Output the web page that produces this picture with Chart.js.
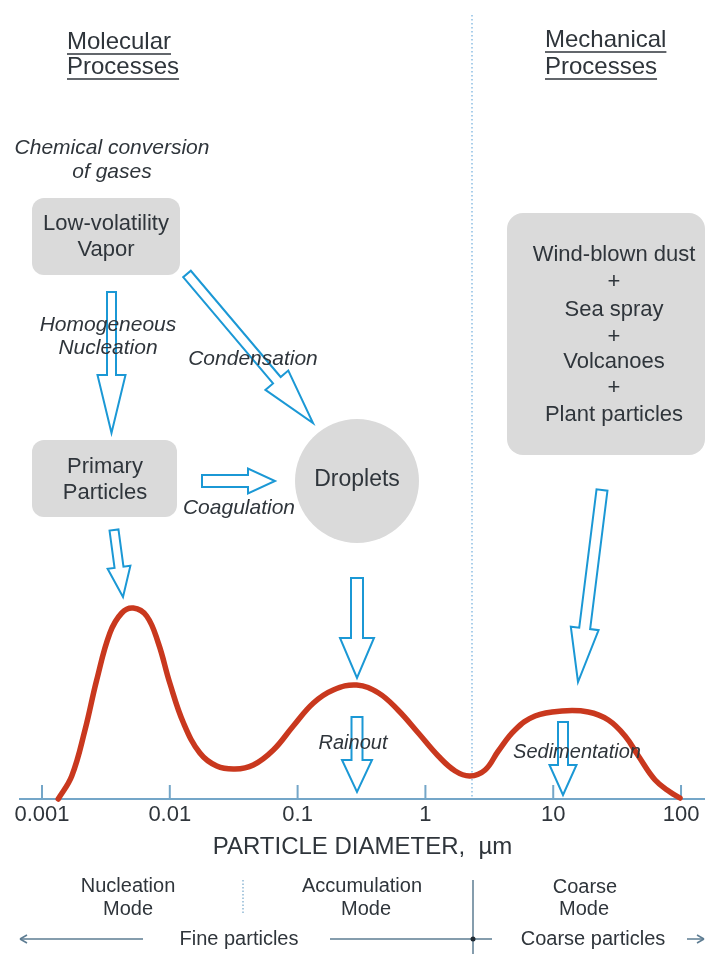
<!DOCTYPE html>
<html>
<head>
<meta charset="utf-8">
<script src="https://cdn.jsdelivr.net/npm/chart.js@4.4.1/dist/chart.umd.min.js"></script>
<style>
  html, body { margin: 0; padding: 0; background: #ffffff; }
  #wrap { width: 705px; height: 954px; position: relative; }
</style>
</head>
<body>
<div id="wrap"><canvas id="myChart"></canvas></div>
<script>
// particle diameter (µm) and relative number concentration
let diameters = [0.00134, 0.00171, 0.00217, 0.00268, 0.0034, 0.00421, 0.00518, 0.00659, 0.00813, 0.0100,
                 0.0128, 0.0172, 0.0233, 0.0324, 0.045, 0.0646, 0.0925, 0.133, 0.19, 0.29,
                 0.43, 0.61, 0.88, 1.26, 1.71, 2.23, 2.93, 3.72, 5.02, 7.21,
                 11.7, 18.8, 27.0, 36.5, 46.4, 62.7, 82.0, 98.2];
let concentration = [0, 23, 69, 119, 166, 186, 191, 183, 156, 116,
                     76, 46, 33, 30, 34, 49, 73, 96, 109, 114,
                     106, 89, 66, 43, 28, 23, 29, 48, 69, 83,
                     88, 87, 79, 63, 43, 19, 7, 1];
let tickValues = [0.001, 0.01, 0.1, 1, 10, 100];
let tickLabels = ['0.001', '0.01', '0.1', '1', '10', '100'];

let fontFamily = "'Liberation Sans', Arial, sans-serif";
let textColor = '#2f353b';
let arrowBlue = '#1b98d5';
let axisColor = '#74a6c8';
let boxGray = '#dadada';

function txt(ctx, str, x, y, size, italic, align) {
    ctx.font = (italic ? 'italic ' : '') + size + 'px ' + fontFamily;
    ctx.fillStyle = textColor;
    ctx.textAlign = align || 'center';
    ctx.textBaseline = 'middle';
    ctx.fillText(str, x, y);
}

function underlined(ctx, str, x, y, size, lineY) {
    txt(ctx, str, x, y, size, false, 'left');
    let w = ctx.measureText(str).width;
    ctx.strokeStyle = textColor;
    ctx.lineWidth = 1.5;
    ctx.beginPath();
    ctx.moveTo(x, lineY);
    ctx.lineTo(x + w, lineY);
    ctx.stroke();
}

function roundBox(ctx, x1, y1, x2, y2, r) {
    ctx.fillStyle = boxGray;
    ctx.beginPath();
    ctx.roundRect(x1, y1, x2 - x1, y2 - y1, r);
    ctx.fill();
}

// outlined block arrow from (x1,y1) to tip (x2,y2)
function blockArrow(ctx, x1, y1, x2, y2, sw, hw, hl) {
    let dx = x2 - x1, dy = y2 - y1;
    let len = Math.sqrt(dx * dx + dy * dy);
    let ux = dx / len, uy = dy / len;
    let nx = -uy, ny = ux;
    let bx = x2 - ux * hl, by = y2 - uy * hl;
    ctx.beginPath();
    ctx.moveTo(x1 + nx * sw / 2, y1 + ny * sw / 2);
    ctx.lineTo(bx + nx * sw / 2, by + ny * sw / 2);
    ctx.lineTo(bx + nx * hw / 2, by + ny * hw / 2);
    ctx.lineTo(x2, y2);
    ctx.lineTo(bx - nx * hw / 2, by - ny * hw / 2);
    ctx.lineTo(bx - nx * sw / 2, by - ny * sw / 2);
    ctx.lineTo(x1 - nx * sw / 2, y1 - ny * sw / 2);
    ctx.closePath();
    ctx.fillStyle = '#ffffff';
    ctx.fill();
    ctx.strokeStyle = arrowBlue;
    ctx.lineWidth = 2;
    ctx.lineJoin = 'miter';
    ctx.stroke();
}

function line(ctx, x1, y1, x2, y2, color, width, dash) {
    ctx.save();
    ctx.strokeStyle = color;
    ctx.lineWidth = width;
    ctx.setLineDash(dash || []);
    ctx.beginPath();
    ctx.moveTo(x1, y1);
    ctx.lineTo(x2, y2);
    ctx.stroke();
    ctx.restore();
}

let underCurve = {
    id: 'underCurve',
    beforeDatasetsDraw(chart) {
        let ctx = chart.ctx;
        let xs = chart.scales.x;
        let base = chart.chartArea.bottom;
        ctx.save();
        // small tick marks standing up from the axis
        tickValues.forEach(v => {
            let px = xs.getPixelForValue(v);
            line(ctx, px, base, px, base - 14, axisColor, 2);
        });
        // fine / coarse boundary
        line(ctx, 472, 15, 472, base, '#8dbfe3', 1.5, [1.5, 2.5]);
        ctx.restore();
    }
};

let diagram = {
    id: 'diagram',
    afterDraw(chart) {
        let ctx = chart.ctx;
        ctx.save();

        underlined(ctx, 'Molecular', 67, 42, 24, 54);
        underlined(ctx, 'Processes', 67, 67, 24, 79);
        underlined(ctx, 'Mechanical', 545, 40, 24, 52);
        underlined(ctx, 'Processes', 545, 67, 24, 79);

        txt(ctx, 'Chemical conversion', 112, 148, 21, true);
        txt(ctx, 'of gases', 112, 172, 21, true);

        roundBox(ctx, 32, 198, 180, 275, 12);
        txt(ctx, 'Low-volatility', 106, 224, 22);
        txt(ctx, 'Vapor', 106, 250, 22);

        roundBox(ctx, 32, 440, 177, 517, 12);
        txt(ctx, 'Primary', 105, 467, 22);
        txt(ctx, 'Particles', 105, 493, 22);

        ctx.fillStyle = boxGray;
        ctx.beginPath();
        ctx.arc(357, 481, 62, 0, Math.PI * 2);
        ctx.fill();
        txt(ctx, 'Droplets', 357, 480, 23);

        roundBox(ctx, 507, 213, 705, 455, 16);
        let right = ['Wind-blown dust', '+', 'Sea spray', '+', 'Volcanoes', '+', 'Plant particles'];
        let ry = [255, 282, 310, 337, 362, 388, 415];
        right.forEach((s, i) => txt(ctx, s, 614, ry[i], 22));

        blockArrow(ctx, 111.5, 292, 111.5, 433, 9, 28, 58);
        blockArrow(ctx, 187, 274, 313, 423, 10, 30, 56);
        blockArrow(ctx, 202, 481, 275, 481, 12, 25, 27);
        blockArrow(ctx, 114, 530, 123, 597, 9, 23, 30);
        blockArrow(ctx, 357, 578, 357, 678, 12, 34, 40);
        blockArrow(ctx, 357, 717, 357, 792, 11, 30, 32);
        blockArrow(ctx, 602, 490, 578, 682, 11, 28, 54);
        blockArrow(ctx, 563, 722, 563, 795, 10, 27, 30);

        txt(ctx, 'Homogeneous', 108, 325, 21, true);
        txt(ctx, 'Nucleation', 108, 348, 21, true);
        txt(ctx, 'Condensation', 253, 359, 21, true);
        txt(ctx, 'Coagulation', 239, 508, 21, true);
        txt(ctx, 'Rainout', 353, 743, 20, true);
        txt(ctx, 'Sedimentation', 577, 752, 20, true);

        // modes below the axis
        txt(ctx, 'Nucleation', 128, 886, 20);
        txt(ctx, 'Mode', 128, 909, 20);
        txt(ctx, 'Accumulation', 362, 886, 20);
        txt(ctx, 'Mode', 366, 909, 20);
        txt(ctx, 'Coarse', 585, 887, 20);
        txt(ctx, 'Mode', 584, 909, 20);
        line(ctx, 243, 880, 243, 915, '#8fb8d4', 1.5, [1.5, 2]);
        line(ctx, 473, 880, 473, 954, '#5d7c92', 1.5);

        let gy = 939;
        line(ctx, 20, gy, 143, gy, '#5d7c92', 1.5);
        line(ctx, 20, gy, 27, gy - 4, '#5d7c92', 1.5);
        line(ctx, 20, gy, 27, gy + 4, '#5d7c92', 1.5);
        line(ctx, 330, gy, 492, gy, '#5d7c92', 1.5);
        line(ctx, 687, gy, 704, gy, '#5d7c92', 1.5);
        line(ctx, 704, gy, 697, gy - 4, '#5d7c92', 1.5);
        line(ctx, 704, gy, 697, gy + 4, '#5d7c92', 1.5);
        ctx.fillStyle = '#1f2a33';
        ctx.beginPath();
        ctx.arc(473, gy, 2.5, 0, Math.PI * 2);
        ctx.fill();
        txt(ctx, 'Fine particles', 239, gy, 20);
        txt(ctx, 'Coarse particles', 593, gy, 20);

        ctx.restore();
    }
};

let points = diameters.map((d, i) => ({ x: d, y: concentration[i] }));

let ctx = document.getElementById('myChart').getContext('2d');
let myChart = new Chart(ctx, {
    type: 'line',
    data: {
        datasets: [{
            label: 'Number distribution',
            data: points,
            borderColor: '#c9381e',
            borderWidth: 5.5,
            pointRadius: 0,
            fill: false,
            tension: 0.4,
            borderJoinStyle: 'round',
            borderCapStyle: 'round',
            clip: false
        }]
    },
    options: {
        responsive: true,
        maintainAspectRatio: false,
        animation: false,
        layout: { padding: { top: 599, left: 20, right: 0, bottom: 0 } },
        plugins: {
            legend: { display: false },
            tooltip: { enabled: false }
        },
        scales: {
            x: {
                type: 'logarithmic',
                min: 0.000673,
                max: 154,
                afterBuildTicks: (scale) => {
                    scale.ticks = tickValues.map(v => ({ value: v }));
                },
                afterFit: (scale) => {
                    scale.height = 155;
                },
                grid: { display: false, drawTicks: false },
                border: { display: true, color: axisColor, width: 2 },
                ticks: {
                    autoSkip: false,
                    maxRotation: 0,
                    padding: 3,
                    color: textColor,
                    font: { family: fontFamily, size: 22 },
                    callback: (value, index) => tickLabels[index]
                },
                title: {
                    display: true,
                    text: 'PARTICLE DIAMETER,  µm',
                    color: textColor,
                    font: { family: fontFamily, size: 24 },
                    padding: { top: 0, bottom: 92 }
                }
            },
            y: {
                display: false,
                min: 0,
                max: 200
            }
        }
    },
    plugins: [underCurve, diagram]
});
</script>
</body>
</html>
